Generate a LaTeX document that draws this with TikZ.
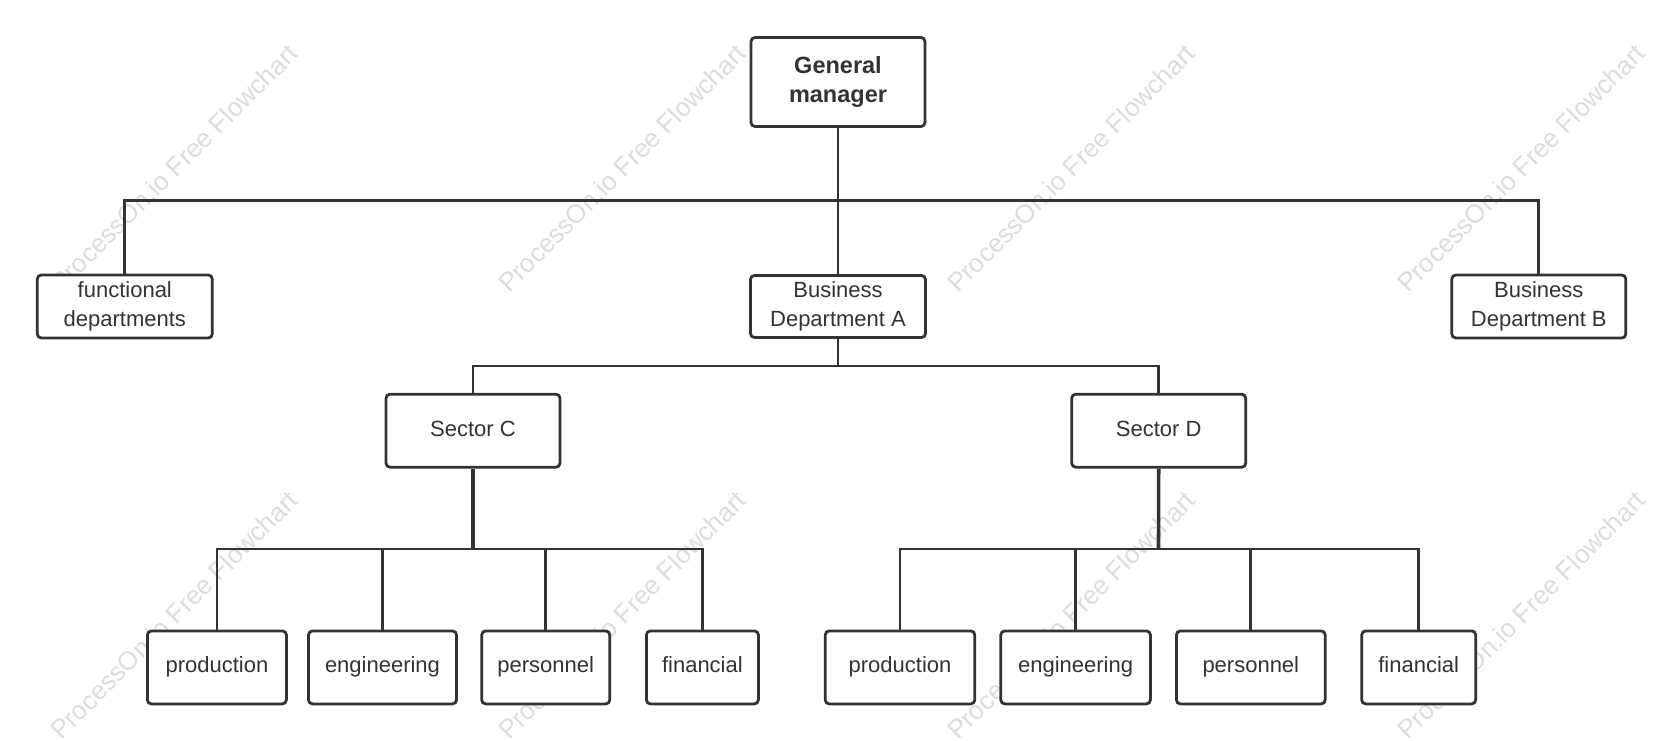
\documentclass[tikz,border=0pt]{standalone}
\usepackage{fontspec}
\setmainfont{Liberation Sans}
\definecolor{ink}{HTML}{333333}
\definecolor{wm}{HTML}{DCDCDC}
\begin{document}
\begin{tikzpicture}[x=1pt,y=-1pt,
  box/.style={draw=ink,line width=2.8pt,rounded corners=4pt,fill=white,text=ink,
    align=center,inner sep=0pt,font=\fontsize{22}{28.7}\selectfont},
  one/.style={text height=16pt,text depth=5pt},
  conn/.style={draw=ink,line width=2.8pt},
  trunk/.style={draw=ink,line width=3.6pt},
  thinconn/.style={draw=ink,line width=1.6pt},
  wmark/.style={text=wm,rotate=45,font=\fontsize{26}{30}\selectfont,inner sep=0pt}]
\useasboundingbox (0,0) rectangle (1663,741);
\begin{scope}
\clip (0,0) rectangle (1663,741);
\foreach \xx in {174,622,1071,1521}{
  \foreach \yy in {168,615}{
    \node[wmark] (wm\xx\yy) at (\xx,\yy) {ProcessOn.io Free Flowchart};
  }
}
\end{scope}
\coordinate (bus1) at (838,200.7);
\coordinate (bus2) at (838,366);
\coordinate (bus3) at (473,549);
\coordinate (bus4) at (1158.5,549);
% nodes
\node[box,minimum width=174pt,minimum height=89pt,font=\fontsize{23.5}{29.5}\selectfont\bfseries] (gm) at (838,82) {General\\manager};
\node[box,minimum width=175pt,minimum height=63pt] (fd) at (124.8,306.5) {functional\\departments};
\node[box,minimum width=175pt,minimum height=62pt] (ba) at (838,306.5) {Business\\Department A};
\node[box,minimum width=174pt,minimum height=63pt] (bb) at (1538.8,306.5) {Business\\Department B};
\node[box,one,minimum width=174pt,minimum height=73pt] (sc) at (473,430.7) {Sector C};
\node[box,one,minimum width=174pt,minimum height=73pt] (sd) at (1158.7,430.7) {Sector D};
\node[box,one,minimum width=139pt,minimum height=73pt] (c1) at (216.9,667.4) {production};
\node[box,one,minimum width=148pt,minimum height=73pt] (c2) at (382.5,667.4) {engineering};
\node[box,one,minimum width=128pt,minimum height=73pt] (c3) at (545.7,667.4) {personnel};
\node[box,one,minimum width=112pt,minimum height=73pt] (c4) at (702.4,667.4) {financial};
\node[box,one,minimum width=149.6pt,minimum height=73pt] (d1) at (900,667.4) {production};
\node[box,one,minimum width=149.6pt,minimum height=73pt] (d2) at (1075.6,667.4) {engineering};
\node[box,one,minimum width=148.8pt,minimum height=73pt] (d3) at (1250.8,667.4) {personnel};
\node[box,one,minimum width=114pt,minimum height=73pt] (d4) at (1418.7,667.4) {financial};
% connectors
\draw[conn] (gm.south) -- (ba.north);
\draw[conn] (fd.north) |- (bus1) -| (bb.north);
\draw[conn] (ba.south) -- (bus2);
\draw[conn] (sc.north) |- (bus2) -| (sd.north);
\draw[trunk] (sc.south) -- (bus3);
\draw[conn] (c1.north) |- (bus3) -| (c4.north);
\draw[conn] (c2.north) -- (c2.north |- bus3);
\draw[conn] (c3.north) -- (c3.north |- bus3);
\draw[trunk] (sd.south) -- (bus4);
\draw[thinconn] (d1.north) |- (d2.north |- bus4);
\draw[conn] (d2.north |- bus4) -- (bus4) -| (d4.north);
\draw[conn] (d2.north) -- (d2.north |- bus4);
\draw[conn] (d3.north) -- (d3.north |- bus4);
\end{tikzpicture}
\end{document}
